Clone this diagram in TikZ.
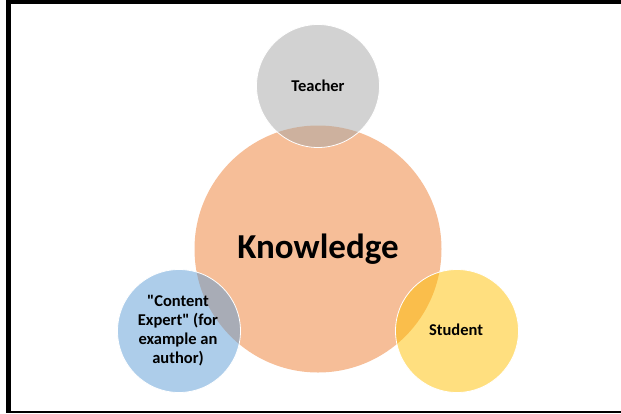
\documentclass[tikz,border=0pt]{standalone}
\usepackage{fontspec}
\setmainfont{Carlito}[Ligatures=TeXOff]
\usepackage{xcolor}
\definecolor{knoworange}{HTML}{ED7D31}
\definecolor{teachgray}{HTML}{A5A5A5}
\definecolor{expertblue}{HTML}{5B9BD5}
\definecolor{studgold}{HTML}{FFC000}

\begin{document}
\begin{tikzpicture}[x=1pt,y=-1pt,
  bubble/.style={circle, draw=white, line width=0.8pt, fill opacity=0.5, text opacity=1,
    font=\bfseries\fontsize{16.5}{19}\selectfont, align=center, inner sep=0pt}]
\useasboundingbox (0,0) rectangle (621,413);
% frame
\fill [black] (6,0) rectangle (621,4);
\fill [black] (6,0) rectangle (10.5,413);
\fill [black] (6,410.5) rectangle (621,413);

\node [bubble, draw=none, fill=knoworange, minimum size=247pt, font=\bfseries\fontsize{35}{40}\selectfont] (know) at (318,249) {Knowledge};
\node [bubble, fill=teachgray, minimum size=123pt] (teach) at (318,86) {Teacher};
\node [bubble, fill=expertblue, minimum size=123pt] (expert) at (179,331) {};
\node [bubble, fill=studgold, minimum size=123pt] (stud) at (457,331) {};

\node [font=\bfseries\fontsize{16.5}{19}\selectfont, align=center] (experttext) at (178,331) {"Content\\Expert" (for\\example an\\author)};
\node [font=\bfseries\fontsize{16.5}{19}\selectfont] (studtext) at (456,330) {Student};
\end{tikzpicture}
\end{document}
